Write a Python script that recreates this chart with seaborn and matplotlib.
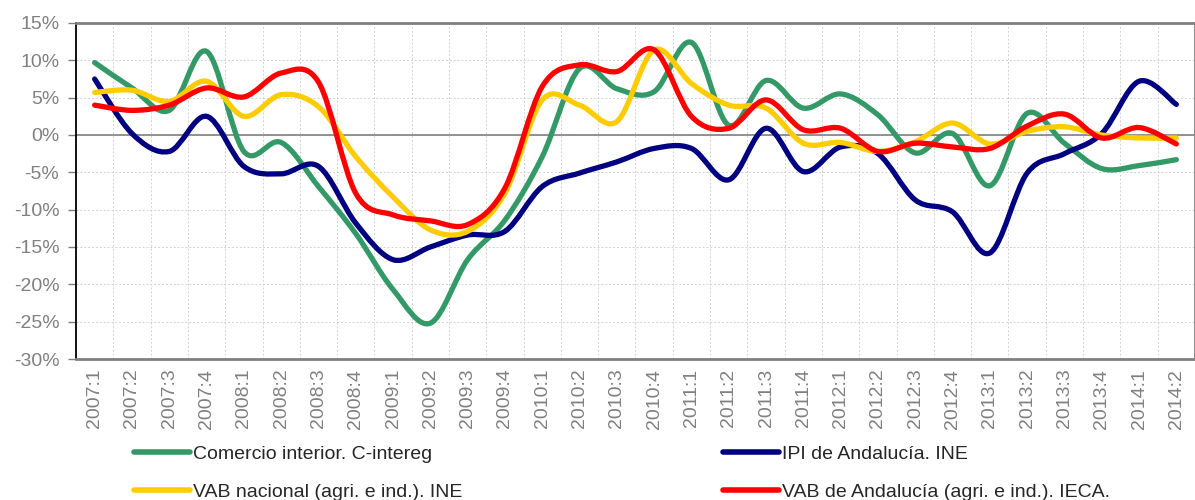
import numpy as np
import matplotlib
matplotlib.use("Agg")
import matplotlib.pyplot as plt
from matplotlib.path import Path
from matplotlib.patches import PathPatch
from matplotlib.lines import Line2D
from matplotlib.ticker import FixedLocator
import seaborn as sns

sns.set_theme(style="whitegrid")
plt.rcParams["font.family"] = ["Liberation Sans", "DejaVu Sans"]
plt.rcParams["axes.unicode_minus"] = False

quarters = [f"{y}:{q}" for y in range(2007, 2015) for q in range(1, 5)][:30]

comercio = [9.7, 6.3, 3.3, 11.2, -2.2, -1.0, -6.9, -13.2, -20.7, -25.2,
            -16.7, -11.4, -2.9, 8.9, 6.2, 5.8, 12.4, 1.3, 7.3, 3.6,
            5.5, 2.7, -2.4, 0.2, -6.8, 2.9, -1.1, -4.5, -4.1, -3.3]
ipi = [7.5, 0.2, -2.2, 2.5, -4.2, -5.2, -4.2, -11.8, -16.7, -15.0,
       -13.4, -12.9, -6.9, -5.1, -3.6, -1.8, -1.8, -6.0, 0.9, -4.9,
       -1.6, -2.5, -8.7, -10.3, -15.8, -5.1, -2.5, 0.2, 7.2, 4.1]
vab_nacional = [5.7, 6.0, 4.5, 7.2, 2.5, 5.4, 3.8, -2.9, -8.3, -12.7,
                -12.9, -7.8, 4.7, 4.0, 1.8, 11.4, 6.9, 4.0, 3.6, -1.1,
                -1.0, -2.2, -0.9, 1.6, -1.2, 0.5, 1.1, 0.0, -0.4, -0.4]
vab_andalucia = [4.0, 3.3, 4.0, 6.3, 5.1, 8.3, 7.1, -7.8, -10.7, -11.5,
                 -12.0, -7.1, 6.5, 9.4, 8.5, 11.4, 2.5, 0.9, 4.7, 0.7,
                 0.9, -2.2, -1.1, -1.6, -1.8, 1.2, 2.8, -0.4, 1.0, -1.2]

series_names = ["Comercio interior. C-intereg", "IPI de Andalucía. INE",
                "VAB nacional (agri. e ind.). INE", "VAB de Andalucía (agri. e ind.). IECA."]
series_values = [comercio, ipi, vab_nacional, vab_andalucia]
colors = ["#339966", "#000080", "#FFCC00", "#FF0000"]


def smooth_path(xs, ys):
    # Excel-style smoothed line: cubic Bezier through every data point
    pts = np.column_stack([xs, ys]).astype(float)
    n = len(pts)
    verts = [pts[0]]
    codes = [Path.MOVETO]
    for i in range(n - 1):
        p0 = pts[max(i - 1, 0)]
        p1 = pts[i]
        p2 = pts[i + 1]
        p3 = pts[min(i + 2, n - 1)]
        verts += [p1 + (p2 - p0) / 6.0, p2 - (p3 - p1) / 6.0, p2]
        codes += [Path.CURVE4] * 3
    return Path(verts, codes)


fig = plt.figure(figsize=(11.95, 5.0), dpi=100)
ax = fig.add_axes([76 / 1195, 1 - 359 / 500, 1 - 76 / 1195, 336 / 500])
ax.set_facecolor("white")

x = np.arange(len(quarters))
for vals, col in zip(series_values, colors):
    patch = PathPatch(smooth_path(x, vals), fill=False, edgecolor=col, lw=3.8,
                      capstyle="round", joinstyle="round", zorder=3)
    ax.add_patch(patch)

ax.set_xlim(-0.5, 29.5)
ax.set_ylim(-30, 15)

yticks = list(range(-30, 16, 5))
ax.set_yticks(yticks)
ax.set_yticklabels([f"{t}%" for t in yticks], color="#808080", fontsize=14)
ax.set_xticks(x)
ax.set_xticklabels(quarters, rotation=90, color="#808080", fontsize=14)
ax.xaxis.set_minor_locator(FixedLocator(np.arange(0.5, 29.5, 1)))

ax.grid(False)
ax.grid(axis="y", which="major", color="#d2d2d2", linestyle=(0, (2, 2)), lw=0.7)
ax.grid(axis="x", which="minor", color="#d2d2d2", linestyle=(0, (2, 2)), lw=0.7)
ax.axhline(0, color="#808080", lw=1.2, zorder=2)

ax.tick_params(axis="x", which="both", length=0, pad=7)
ax.tick_params(axis="y", which="major", length=6, width=1, color="#808080",
               direction="out", left=True, pad=6)

for side in ["top", "bottom", "right"]:
    ax.spines[side].set_color("#808080")
    ax.spines[side].set_linewidth(2)
ax.spines["left"].set_color("#000000")
ax.spines["left"].set_linewidth(1.3)

handles = [Line2D([], [], color=c, lw=4, solid_capstyle="round") for c in colors]
legend_kw = dict(loc="upper left", frameon=False, fontsize=14, handlelength=2.9,
                 handletextpad=0.15, labelspacing=1.08, borderpad=0, borderaxespad=0)
fig.legend([handles[0], handles[2]], [series_names[0], series_names[2]],
           bbox_to_anchor=(134 / 1195, 1 - 445 / 500), **legend_kw)
fig.legend([handles[1], handles[3]], [series_names[1], series_names[3]],
           bbox_to_anchor=(723 / 1195, 1 - 445 / 500), **legend_kw)

fig.savefig("out.png", dpi=100, facecolor="white")
